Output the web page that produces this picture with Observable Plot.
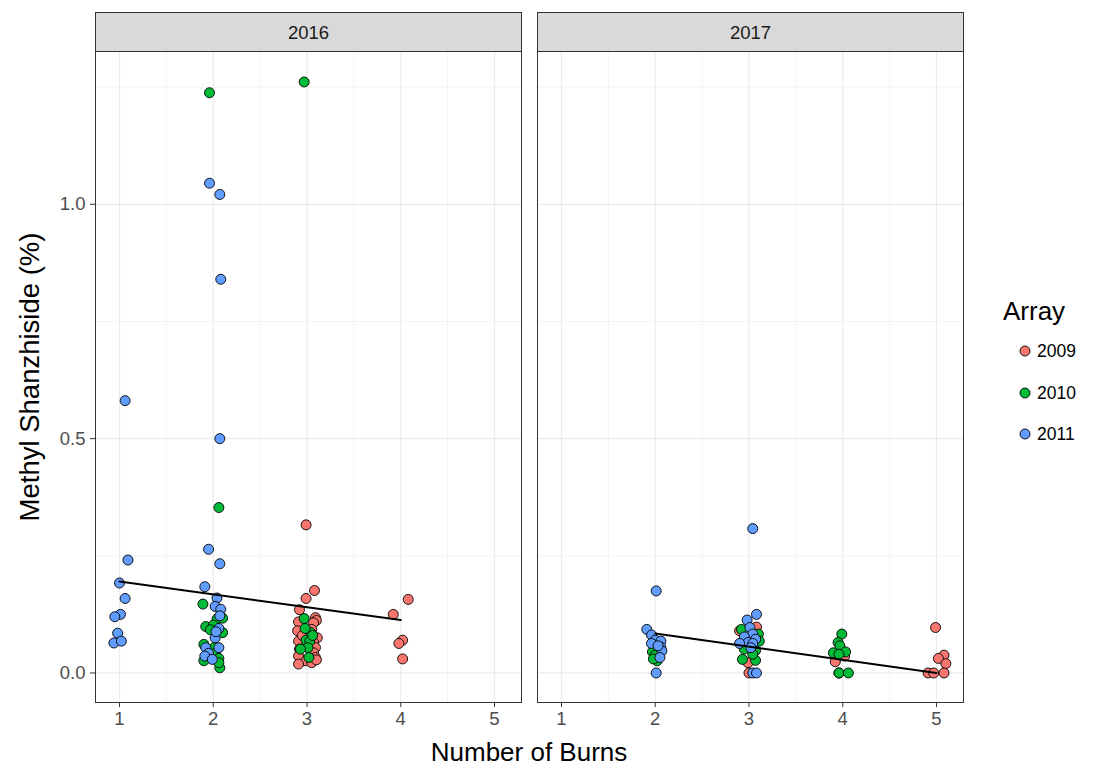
<!DOCTYPE html>
<html>
<head>
<meta charset="utf-8">
<script src="https://cdn.jsdelivr.net/npm/d3@7"></script>
<script src="https://cdn.jsdelivr.net/npm/@observablehq/plot@0.6"></script>
<style>
  html, body { margin: 0; padding: 0; background: white; }
  #wrap { position: relative; width: 1102px; height: 766px; font-family: "Liberation Sans", Arial, sans-serif; }
  .ttl { position: absolute; white-space: nowrap; color: #000; }
</style>
</head>
<body>
<div id="wrap"><div id="chart"></div></div>
<script>
// ---- data ----
const panels = ["2016", "2017"];
const arrays = ["2009", "2010", "2011"];
const colors = ["#F8766D", "#00BA38", "#619CFF"];
const xTicks = [1, 2, 3, 4, 5];
const xMinor = [1.5, 2.5, 3.5, 4.5];
const yTicks = [0, 0.5, 1.0];
const yMinor = [0.25, 0.75, 1.25];

// 2016 panel
const x2016_2009 = [2.99, 3.08, 2.99, 2.92, 3.09, 3.10, 3.07, 2.91, 2.90, 3.05, 3.11, 2.93, 2.91, 3.07, 3.09, 2.92, 3.07, 2.91, 3.09, 2.99, 2.91, 3.05, 2.95, 3.10, 4.08, 3.92, 4.02, 3.98, 4.02];
const y2016_2009 = [0.316, 0.176, 0.159, 0.135, 0.118, 0.112, 0.107, 0.109, 0.090, 0.093, 0.075, 0.065, 0.068, 0.065, 0.054, 0.051, 0.043, 0.036, 0.033, 0.026, 0.019, 0.022, 0.080, 0.028, 0.157, 0.125, 0.070, 0.063, 0.030];
const x2016_2010 = [1.96, 2.06, 1.89, 2.04, 2.10, 1.92, 2.00, 1.97, 2.10, 1.90, 2.01, 2.02, 2.06, 2.07, 1.90, 2.06, 2.97, 2.97, 3.04, 2.99, 3.03, 3.01, 2.93, 3.02, 3.06, 2.98];
const y2016_2010 = [1.238, 0.353, 0.147, 0.115, 0.117, 0.099, 0.102, 0.092, 0.086, 0.061, 0.054, 0.042, 0.031, 0.011, 0.026, 0.022, 1.261, 0.116, 0.086, 0.070, 0.068, 0.054, 0.051, 0.033, 0.080, 0.095];
const x2016_2011 = [1.06, 1.09, 1.00, 1.06, 1.01, 0.95, 0.98, 0.94, 1.02, 1.96, 2.07, 2.08, 2.07, 1.95, 2.07, 1.91, 2.04, 2.02, 2.08, 2.06, 2.02, 1.92, 2.06, 1.95, 1.91, 1.99, 2.03, 2.07];
const y2016_2011 = [0.581, 0.241, 0.192, 0.159, 0.125, 0.120, 0.085, 0.064, 0.068, 1.045, 1.021, 0.840, 0.500, 0.264, 0.233, 0.184, 0.160, 0.142, 0.136, 0.095, 0.075, 0.054, 0.054, 0.042, 0.036, 0.029, 0.088, 0.122];

// 2017 panel
const x2017_2009 = [2.90, 3.08, 2.99, 3.00, 3.05, 3.93, 3.92, 4.02, 3.96, 4.99, 5.08, 5.02, 5.10, 4.91, 4.97, 5.08];
const y2017_2009 = [0.090, 0.098, 0.022, 0.000, 0.075, 0.031, 0.024, 0.036, 0.000, 0.097, 0.038, 0.031, 0.020, 0.000, 0.000, 0.000];
const x2017_2010 = [1.97, 2.00, 2.02, 1.98, 2.92, 3.10, 3.11, 2.95, 3.07, 2.93, 3.07, 3.04, 3.99, 3.95, 3.97, 4.03, 3.90, 3.96, 3.96, 4.06];
const y2017_2010 = [0.045, 0.038, 0.026, 0.030, 0.093, 0.083, 0.068, 0.051, 0.048, 0.029, 0.027, 0.040, 0.083, 0.065, 0.058, 0.045, 0.043, 0.040, 0.000, 0.000];
const x2017_2011 = [2.01, 1.91, 1.96, 2.00, 2.06, 1.96, 2.06, 2.07, 2.05, 2.03, 2.01, 3.04, 3.08, 2.98, 3.01, 3.04, 2.95, 3.07, 2.99, 2.90, 3.04, 3.02, 3.04, 3.08];
const y2017_2011 = [0.175, 0.093, 0.081, 0.070, 0.068, 0.063, 0.055, 0.047, 0.033, 0.058, 0.000, 0.308, 0.125, 0.113, 0.097, 0.083, 0.077, 0.072, 0.065, 0.063, 0.063, 0.054, 0.000, 0.000];

// fitted lines (endpoints)
const fitX2016 = [1, 4];
const fitY2016 = [0.195, 0.113];
const fitX2017 = [2, 5];
const fitY2017 = [0.084, 0.000];

// ---- build tables ----
const series = [
  ["2016", "2009", x2016_2009, y2016_2009],
  ["2016", "2010", x2016_2010, y2016_2010],
  ["2016", "2011", x2016_2011, y2016_2011],
  ["2017", "2009", x2017_2009, y2017_2009],
  ["2017", "2010", x2017_2010, y2017_2010],
  ["2017", "2011", x2017_2011, y2017_2011]
];
const points = [];
for (const [panel, arr, xs, ys] of series) {
  xs.forEach((x, i) => points.push({panel, array: arr, x, y: ys[i]}));
}
const fits = [];
fitX2016.forEach((x, i) => fits.push({panel: "2016", x, y: fitY2016[i]}));
fitX2017.forEach((x, i) => fits.push({panel: "2017", x, y: fitY2017[i]}));

const W = 1102, H = 766, mT = 51, mB = 64, mL = 95, mR = 139;
const frameH = H - mT - mB;
const stripH = 39;
const grid = "#ebebeb";

const chart = Plot.plot({
  width: W, height: H,
  marginLeft: mL, marginRight: mR, marginTop: mT, marginBottom: mB,
  style: {fontFamily: "'Liberation Sans', Arial, sans-serif", background: "white", overflow: "visible"},
  fx: {domain: panels, paddingInner: 0.0362, paddingOuter: 0, label: null},
  x: {domain: [0.744, 5.288]},
  y: {domain: [-0.063, 1.326]},
  color: {domain: arrays, range: colors},
  marks: [
    Plot.gridX({ticks: xMinor, stroke: grid, strokeOpacity: 1, strokeWidth: 0.6}),
    Plot.gridY({ticks: yMinor, stroke: grid, strokeOpacity: 1, strokeWidth: 0.6}),
    Plot.gridX({ticks: xTicks, stroke: grid, strokeOpacity: 1, strokeWidth: 1.2}),
    Plot.gridY({ticks: yTicks, stroke: grid, strokeOpacity: 1, strokeWidth: 1.2}),
    Plot.frame({fill: "#d9d9d9", stroke: "#333333", strokeWidth: 1, insetTop: -stripH, insetBottom: frameH}),
    Plot.axisFx({anchor: "top", label: null, tickSize: 0, tickPadding: 13, fontSize: 18.5, fill: "#1a1a1a"}),
    Plot.axisX({ticks: xTicks, tickFormat: d3.format("d"), tickSize: 5, tickPadding: 4, fontSize: 18.5, stroke: "#333333", fill: "#4d4d4d", label: null}),
    Plot.axisY({ticks: yTicks, tickFormat: d3.format(".1f"), tickSize: 5, tickPadding: 5, fontSize: 18.5, stroke: "#333333", fill: "#4d4d4d", label: null}),
    Plot.dot(points, {x: "x", y: "y", fx: "panel", fill: "array", stroke: "black", strokeWidth: 0.9, r: 5}),
    Plot.line(fits, {x: "x", y: "y", fx: "panel", z: "panel", stroke: "black", strokeWidth: 2}),
    Plot.frame({stroke: "#333333", strokeWidth: 1})
  ]
});
document.getElementById("chart").appendChild(chart);

// ---- titles and legend (HTML text) ----
const wrap = document.getElementById("wrap");
function addText(txt, css) {
  const d = document.createElement("div");
  d.className = "ttl";
  d.textContent = txt;
  Object.assign(d.style, css);
  wrap.appendChild(d);
  return d;
}
addText("Number of Burns", {left: ((mL + (W - mR)) / 2) + "px", top: "752px", fontSize: "26px", transform: "translate(-50%,-50%)"});
addText("Methyl Shanzhiside (%)", {left: "30px", top: ((mT + H - mB) / 2) + "px", fontSize: "27.5px", transform: "translate(-50%,-50%) rotate(-90deg)"});
addText("Array", {left: "1003px", top: "311px", fontSize: "26px", transform: "translateY(-50%)"});
arrays.forEach((a, i) => {
  const cy = 351 + i * 41.5;
  const s = document.createElementNS("http://www.w3.org/2000/svg", "svg");
  s.setAttribute("width", 14); s.setAttribute("height", 14);
  s.style.position = "absolute"; s.style.left = "1018px"; s.style.top = (cy - 7) + "px";
  const c = document.createElementNS("http://www.w3.org/2000/svg", "circle");
  c.setAttribute("cx", 7); c.setAttribute("cy", 7); c.setAttribute("r", 5);
  c.setAttribute("fill", colors[i]); c.setAttribute("stroke", "black"); c.setAttribute("stroke-width", 0.9);
  s.appendChild(c);
  wrap.appendChild(s);
  addText(a, {left: "1037px", top: cy + "px", fontSize: "17.5px", color: "#000", transform: "translateY(-50%)"});
});
</script>
</body>
</html>
